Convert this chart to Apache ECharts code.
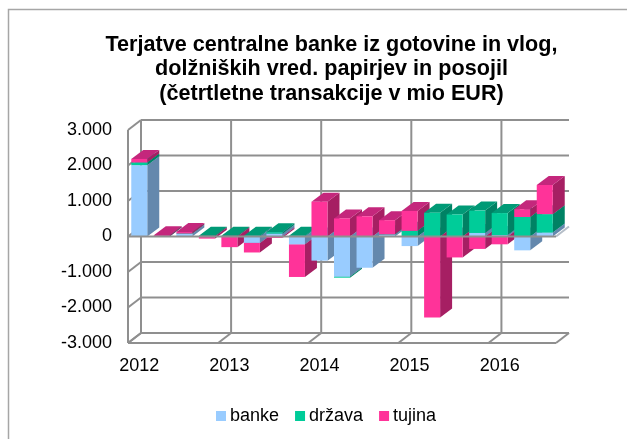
<!DOCTYPE html>
<html><head><meta charset="utf-8">
<style>html,body{margin:0;padding:0;background:#fff}#c{width:627px;height:439px}</style>
<script src="https://cdn.jsdelivr.net/npm/echarts@6/dist/echarts.min.js"></script>
</head><body><div id="c"></div>
<script>
const categories = ['2012','','','','2013','','','','2014','','','','2015','','','','2016','',''];
const banke  = [2010,  5,  80,   0,   0,-180,  80,-220,-680,-1130,-880,  50,-270,   0,   0, 100,  40,-390, 110];
const drzava = [  75,  5,   5,  20,  20,  20,  40,  20,   0,  -30,   0,  10, 160, 670, 620, 630, 620, 550, 520];
const tujina = [ 100, 25,  40, -60,-300,-270, -40,-920, 980,  510, 570, 400, 560,-2280,-590,-350,-220, 220, 820];
const seriesNames = ['banke','država','tujina'];
const colors = ['#99CCFF','#00CC99','#FF3399'];
const sideColors = ['#6488AD','#008264','#A61F63'];
const topColors = ['#7FA8D2','#009A76','#C4277C'];
const yTicks = [-3000,-2000,-1000,0,1000,2000,3000];
const fmt = v => { const a = Math.abs(v); const s = a === 0 ? '0' : Math.floor(a/1000) + '.' + String(a%1000).padStart(3,'0'); return (v<0?'-':'') + s; };

const GRAY = '#8F8F8F';
const WALL_DX = 13, WALL_DY = 10, BAR_DX = 12, BAR_DY = 9;
const all = [banke, drzava, tujina];

function base(si, i){
  const v = all[si][i]; let b = 0;
  for(let k=0;k<si;k++){ const o = all[k][i]; if(o!==0 && (o>=0)===(v>=0)) b += o; }
  return b;
}
function barSeries(si){
  return {
    type:'custom', name:seriesNames[si], coordinateSystem:'cartesian2d',
    itemStyle:{color:colors[si]},
    encode:{x:0,y:1},
    data: all[si].map((v,i)=>[i,v]),
    clip:false,
    renderItem(params, api){
      const i = api.value(0), v = api.value(1), b = base(si,i);
      if(v===0) return null;
      const w = api.size([1,0])[0]*0.71;
      const c0 = api.coord([i,b]), c1 = api.coord([i,b+v]);
      const l = c0[0]-w/2, r = c0[0]+w/2;
      const top = Math.min(c0[1],c1[1]), bot = Math.max(c0[1],c1[1]);
      // painter order by category; inside one: negatives deepest first, then positives upward
      const z = 100 + i*10 + (v>=0 ? 3+si : 2-si);
      return {type:'group',children:[
        {type:'polygon',z2:z,shape:{points:[[r,top],[r+BAR_DX,top-BAR_DY],[r+BAR_DX,bot-BAR_DY],[r,bot]]},style:{fill:sideColors[si]}},
        {type:'polygon',z2:z,shape:{points:[[l,top],[l+BAR_DX,top-BAR_DY],[r+BAR_DX,top-BAR_DY],[r,top]]},style:{fill:topColors[si]}},
        {type:'rect',z2:z+0.5,shape:{x:l,y:top,width:w,height:bot-top},style:{fill:colors[si]}}
      ]};
    }
  };
}
const frameSeries = {
  type:'custom', coordinateSystem:'cartesian2d', silent:true, clip:false,
  data:[[0,0]], encode:{x:0,y:1},
  renderItem(params, api){
    const n = categories.length;
    const bw = api.size([1,0])[0];
    const x0 = api.coord([0,0])[0]-bw/2, x1 = x0+bw*n;
    const y = v => api.coord([0,v])[1];
    const lineStyle = {stroke:GRAY,lineWidth:2,fill:null};
    const kids = [];
    const seg = (a,b,z,st)=>kids.push({type:'line',z2:z||5,shape:{x1:a[0],y1:a[1],x2:b[0],y2:b[1]},style:st||lineStyle});
    // back wall and left wall
    yTicks.forEach(t=>{
      seg([x0,y(t)],[x0+WALL_DX,y(t)-WALL_DY]);
      if(t!==0) seg([x0+WALL_DX,y(t)-WALL_DY],[x1+WALL_DX,y(t)-WALL_DY]);
    });
    for(let k=0;k<n;k+=4){ const x=x0+k*bw+WALL_DX; seg([x,y(3000)-WALL_DY],[x,y(-3000)-WALL_DY]); }
    seg([x0,y(3000)],[x0,y(-3000)]);
    // floor
    seg([x0,y(-3000)],[x1,y(-3000)]);
    for(let k=0;k<n;k+=4){ const x=x0+k*bw; seg([x,y(-3000)],[x+WALL_DX,y(-3000)-WALL_DY]); }
    seg([x1,y(-3000)],[x1+WALL_DX,y(-3000)-WALL_DY]);
    // zero plane
    seg([x1,y(0)],[x1+WALL_DX,y(0)-WALL_DY],6,{stroke:'#B5BEC8',lineWidth:2,fill:null});
    seg([x0,y(0)],[x1,y(0)],100+n*10+50);
    return {type:'group',children:kids};
  }
};
const chart = echarts.init(document.getElementById('c'),null,{renderer:'canvas'});
chart.setOption({
  animation:false,
  backgroundColor:'#fff',
  graphic:[{type:'rect',silent:true,z:-1,shape:{x:8.5,y:9.5,width:700,height:600},style:{fill:'#fff',stroke:'#A6A6A6',lineWidth:1.5}}],
  title:{text:'Terjatve centralne banke iz gotovine in vlog,\ndolžniških vred. papirjev in posojil\n(četrtletne transakcije v mio EUR)',
    left:326.5,top:27.5,textAlign:'center',textStyle:{fontFamily:'Liberation Sans',fontSize:21.6,fontWeight:'bold',color:'#000',lineHeight:24.5}},
  legend:{data:seriesNames,left:211,top:402,icon:'rect',itemWidth:10,itemHeight:10,itemGap:16,selectedMode:false,
    textStyle:{fontFamily:'Liberation Sans',fontSize:18,color:'#000',padding:[0,0,0,-1]}},
  grid:{left:128,right:71,top:130,bottom:96,containLabel:false},
  xAxis:{type:'category',data:categories,boundaryGap:true,axisLine:{show:false},axisTick:{show:false},splitLine:{show:false},
    axisLabel:{interval:0,margin:14,fontFamily:'Liberation Sans',fontSize:18,color:'#000',hideOverlap:false}},
  yAxis:{type:'value',min:-3000,max:3000,interval:1000,axisLine:{show:false},axisTick:{show:false},splitLine:{show:false},
    axisLabel:{margin:16,formatter:fmt,fontFamily:'Liberation Sans',fontSize:18,color:'#000'}},
  series:[frameSeries,barSeries(0),barSeries(1),barSeries(2)]
});
</script></body></html>
